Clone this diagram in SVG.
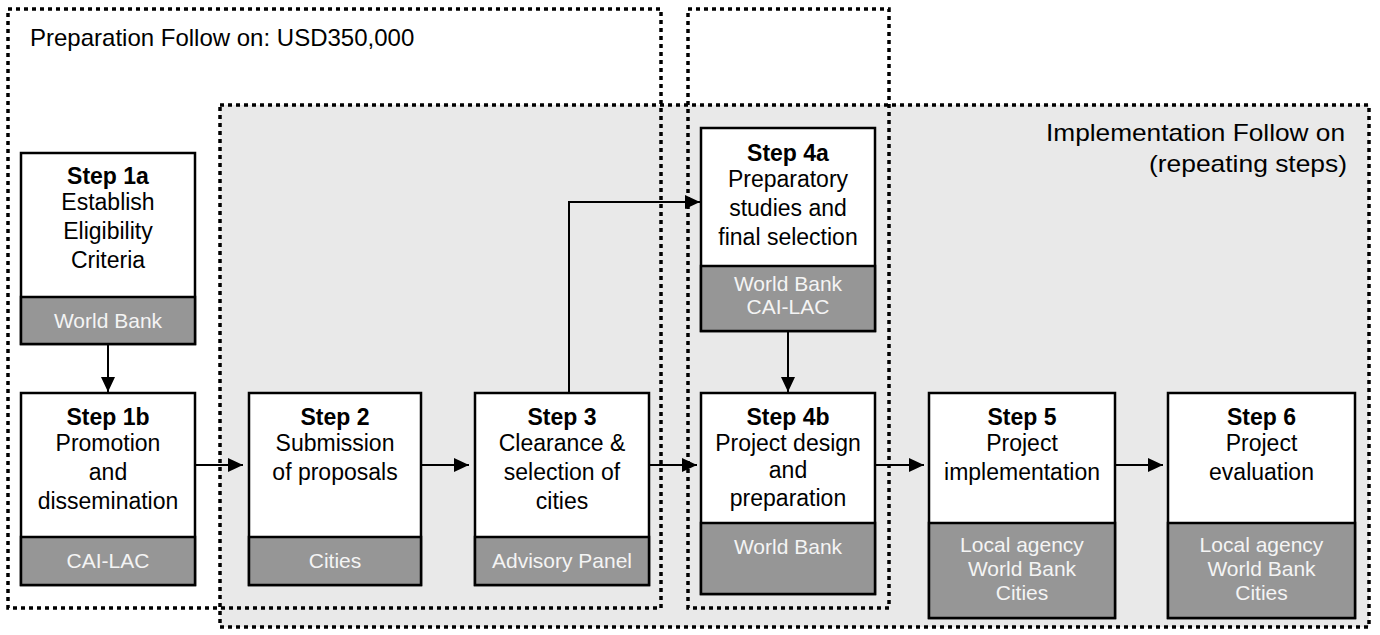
<svg xmlns="http://www.w3.org/2000/svg" width="1380" height="635" viewBox="0 0 1380 635">
<defs>
<marker id="ah" markerWidth="15" markerHeight="14" refX="15" refY="7" orient="auto" markerUnits="userSpaceOnUse">
<path d="M0,0 L15,7 L0,14 Z" fill="#000"/>
</marker>
<style>
.zone{fill:none;stroke:#000;stroke-width:3.5;stroke-dasharray:4 4}
.box{fill:#fff;stroke:#000;stroke-width:2.5}
.sub{fill:#969696;stroke:#000;stroke-width:2.5}
.t{font-family:"Liberation Sans",Arial,sans-serif;font-size:23px;fill:#000;text-anchor:middle}
.b{font-weight:bold}
.g{font-family:"Liberation Sans",Arial,sans-serif;font-size:21px;fill:#f4f4f4;text-anchor:middle}
.h{font-family:"Liberation Sans",Arial,sans-serif;font-size:24px;fill:#000}
.c{fill:none;stroke:#000;stroke-width:2}
</style>
</defs>
<rect width="1380" height="635" fill="#fff"/>
<g id="implementation-zone">
<rect x="220" y="105" width="1149" height="522" fill="#e9e9e9" class="zone" style="fill:#e9e9e9"/>
<text class="h" x="1345" y="141" text-anchor="end" textLength="299" lengthAdjust="spacingAndGlyphs">Implementation Follow on</text>
<text class="h" x="1347" y="172" text-anchor="end" textLength="198" lengthAdjust="spacingAndGlyphs">(repeating steps)</text>
</g>
<g id="preparation-zone">
<rect x="8" y="9" width="653" height="599" class="zone"/>
<text class="h" x="30" y="46">Preparation Follow on: USD350,000</text>
</g>
<g id="step4-zone">
<rect x="688" y="9" width="201" height="599" class="zone"/>
</g>
<g id="connectors">
<line class="c" x1="108" y1="344" x2="108" y2="392" marker-end="url(#ah)"/>
<line class="c" x1="195" y1="465" x2="243" y2="465" marker-end="url(#ah)"/>
<line class="c" x1="421" y1="465" x2="469" y2="465" marker-end="url(#ah)"/>
<line class="c" x1="649" y1="465" x2="697" y2="465" marker-end="url(#ah)"/>
<line class="c" x1="875" y1="465" x2="924" y2="465" marker-end="url(#ah)"/>
<line class="c" x1="1115" y1="465" x2="1163" y2="465" marker-end="url(#ah)"/>
<polyline class="c" points="569,393 569,202 700,202" marker-end="url(#ah)"/>
<line class="c" x1="788" y1="331" x2="788" y2="392" marker-end="url(#ah)"/>
</g>
<g id="step1a">
<rect class="box" x="21" y="153" width="174" height="191"/>
<rect class="sub" x="21" y="297" width="174" height="47"/>
<text class="t b" x="108" y="184">Step 1a</text>
<text class="t" x="108" y="210">Establish</text>
<text class="t" x="108" y="239">Eligibility</text>
<text class="t" x="108" y="268">Criteria</text>
<text class="g" x="108" y="328">World Bank</text>
</g>
<g id="step1b">
<rect class="box" x="21" y="393" width="174" height="192"/>
<rect class="sub" x="21" y="537" width="174" height="48"/>
<text class="t b" x="108" y="425">Step 1b</text>
<text class="t" x="108" y="451">Promotion</text>
<text class="t" x="108" y="480">and</text>
<text class="t" x="108" y="509">dissemination</text>
<text class="g" x="108" y="568">CAI-LAC</text>
</g>
<g id="step2">
<rect class="box" x="249" y="393" width="172" height="192"/>
<rect class="sub" x="249" y="537" width="172" height="48"/>
<text class="t b" x="335" y="425">Step 2</text>
<text class="t" x="335" y="451">Submission</text>
<text class="t" x="335" y="480">of proposals</text>
<text class="g" x="335" y="568">Cities</text>
</g>
<g id="step3">
<rect class="box" x="475" y="393" width="174" height="192"/>
<rect class="sub" x="475" y="537" width="174" height="48"/>
<text class="t b" x="562" y="425">Step 3</text>
<text class="t" x="562" y="451">Clearance &amp;</text>
<text class="t" x="562" y="480">selection of</text>
<text class="t" x="562" y="509">cities</text>
<text class="g" x="562" y="568">Advisory Panel</text>
</g>
<g id="step4a">
<rect class="box" x="701" y="128" width="174" height="203"/>
<rect class="sub" x="701" y="266" width="174" height="65"/>
<text class="t b" x="788" y="161">Step 4a</text>
<text class="t" x="788" y="187">Preparatory</text>
<text class="t" x="788" y="216">studies and</text>
<text class="t" x="788" y="245">final selection</text>
<text class="g" x="788" y="291">World Bank</text>
<text class="g" x="788" y="314">CAI-LAC</text>
</g>
<g id="step4b">
<rect class="box" x="701" y="393" width="174" height="201"/>
<rect class="sub" x="701" y="523" width="174" height="71"/>
<text class="t b" x="788" y="425">Step 4b</text>
<text class="t" x="788" y="451">Project design</text>
<text class="t" x="788" y="478">and</text>
<text class="t" x="788" y="506">preparation</text>
<text class="g" x="788" y="554">World Bank</text>
</g>
<g id="step5">
<rect class="box" x="929" y="393" width="186" height="225"/>
<rect class="sub" x="929" y="523" width="186" height="95"/>
<text class="t b" x="1022" y="425">Step 5</text>
<text class="t" x="1022" y="451">Project</text>
<text class="t" x="1022" y="480">implementation</text>
<text class="g" x="1022" y="552">Local agency</text>
<text class="g" x="1022" y="576">World Bank</text>
<text class="g" x="1022" y="600">Cities</text>
</g>
<g id="step6">
<rect class="box" x="1168" y="393" width="187" height="225"/>
<rect class="sub" x="1168" y="523" width="187" height="95"/>
<text class="t b" x="1261.5" y="425">Step 6</text>
<text class="t" x="1261.5" y="451">Project</text>
<text class="t" x="1261.5" y="480">evaluation</text>
<text class="g" x="1261.5" y="552">Local agency</text>
<text class="g" x="1261.5" y="576">World Bank</text>
<text class="g" x="1261.5" y="600">Cities</text>
</g>
</svg>
